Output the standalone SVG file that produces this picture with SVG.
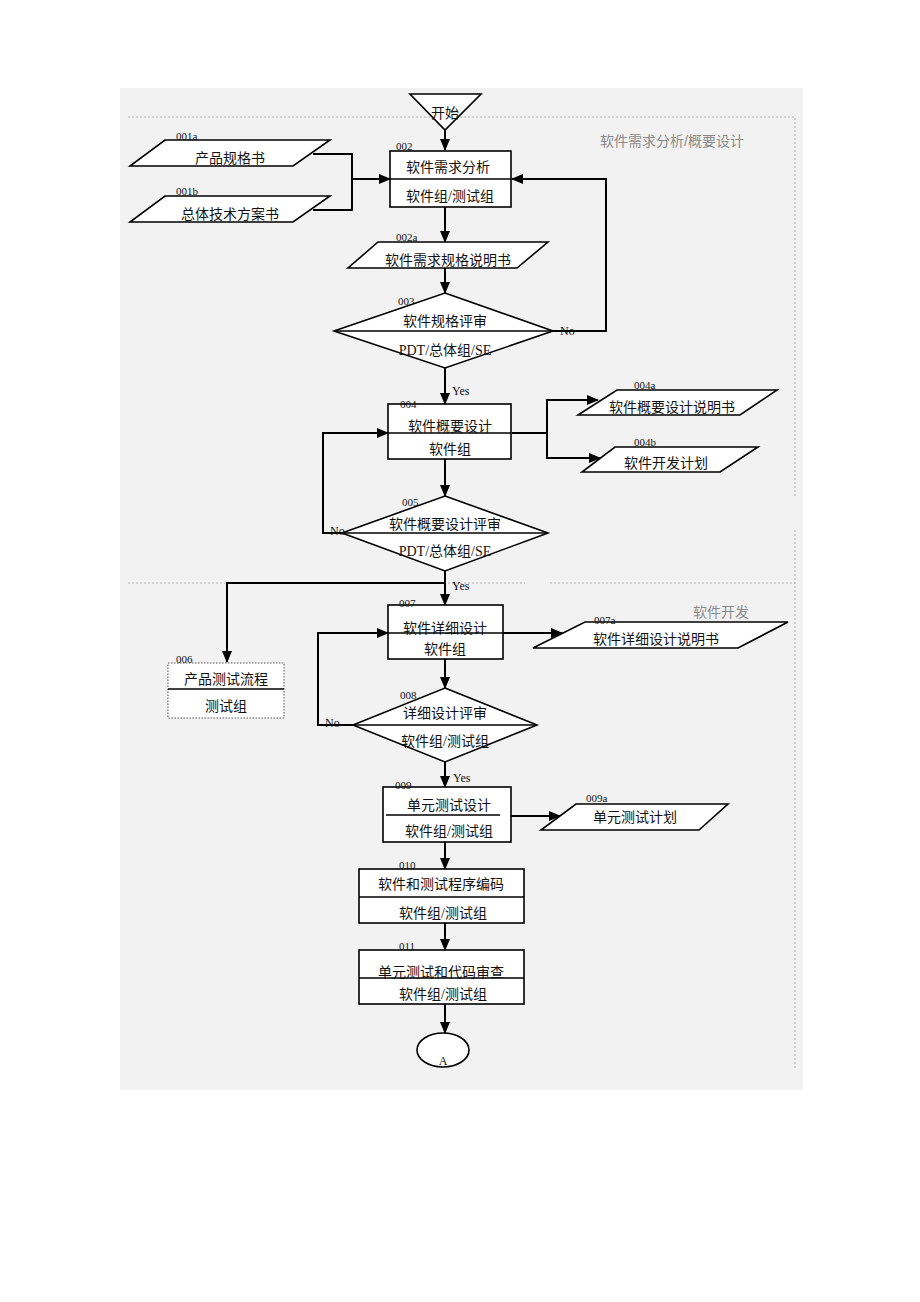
<svg xmlns="http://www.w3.org/2000/svg" width="920" height="1302" viewBox="0 0 920 1302">
<style>
.bg{fill:#f2f2f2}
.sec{fill:none;stroke:#b0b0b0;stroke-width:1;stroke-dasharray:2 2}
.shape{fill:#ffffff;stroke:#000;stroke-width:1.6}
.dotbox{fill:#ffffff;stroke:#555;stroke-width:1;stroke-dasharray:1.5 1.5}
.div{stroke:#000;stroke-width:1.6;fill:none}
.con{fill:none;stroke:#000;stroke-width:2}
.t{font-family:"Liberation Serif","Noto Sans CJK SC",serif;font-size:14px;fill:#111;text-anchor:middle}
.id{font-family:"Liberation Serif",serif;font-size:11px;fill:#111}
.yn{font-family:"Liberation Serif",serif;font-size:12px;fill:#111}
.sl{font-family:"Liberation Sans","Noto Sans CJK SC",sans-serif;font-size:14px;fill:#8a8a8a}
</style>
<defs>
<marker id="ah" markerWidth="12" markerHeight="10" refX="11" refY="5" orient="auto" markerUnits="userSpaceOnUse">
<path d="M0,0 L12,5 L0,10 Z" fill="#000"/>
</marker>
</defs>
<rect class="bg" x="120" y="88" width="683" height="1002"/>
<g id="sections">
<path class="sec" d="M128,117 H795 V497"/>
<path class="sec" d="M795,530 V1070"/>
<path class="sec" d="M128,583 H525 M550,583 H795"/>
<text class="sl" x="600" y="146">软件需求分析/概要设计</text>
<text class="sl" x="693" y="617">软件开发</text>
</g>
<g id="connectors">
<path class="con" d="M445,130 V150" marker-end="url(#ah)"/>
<path class="con" d="M313,154 H352 V210 H313"/>
<path class="con" d="M352,179 H390" marker-end="url(#ah)"/>
<path class="con" d="M553,331 H606 V179 H512" marker-end="url(#ah)"/>
<path class="con" d="M445,207 V242" marker-end="url(#ah)"/>
<path class="con" d="M445,268 V293" marker-end="url(#ah)"/>
<path class="con" d="M445,368 V404" marker-end="url(#ah)"/>
<path class="con" d="M512,433 H547 V458 H600" marker-end="url(#ah)"/>
<path class="con" d="M547,433 V400 H598" marker-end="url(#ah)"/>
<path class="con" d="M445,459 V496" marker-end="url(#ah)"/>
<path class="con" d="M342,533 H323 V433 H388" marker-end="url(#ah)"/>
<path class="con" d="M445,571 V605" marker-end="url(#ah)"/>
<path class="con" d="M445,583 H227 V662" marker-end="url(#ah)"/>
<path class="con" d="M503,633 H562" marker-end="url(#ah)"/>
<path class="con" d="M445,659 V688" marker-end="url(#ah)"/>
<path class="con" d="M353,725 H318 V633 H388" marker-end="url(#ah)"/>
<path class="con" d="M445,762 V787" marker-end="url(#ah)"/>
<path class="con" d="M500,816 H560" marker-end="url(#ah)"/>
<path class="con" d="M445,842 V869" marker-end="url(#ah)"/>
<path class="con" d="M445,923 V950" marker-end="url(#ah)"/>
<path class="con" d="M445,1004 V1033" marker-end="url(#ah)"/>
</g>
<g id="start">
<path class="shape" d="M410,94 H481 L445,130 Z"/>
<text class="t" x="445" y="118">开始</text>
</g>
<g id="n001a">
<path class="shape" d="M165,140 H330 L293,166 H130 Z"/>
<text class="id" x="176" y="140">001a</text>
<text class="t" x="230" y="163">产品规格书</text>
</g>
<g id="n001b">
<path class="shape" d="M165,196 H330 L293,222 H130 Z"/>
<text class="id" x="176" y="195">001b</text>
<text class="t" x="230" y="219">总体技术方案书</text>
</g>
<g id="n002">
<rect class="shape" x="390" y="151" width="121" height="56"/>
<line class="div" x1="390" y1="179" x2="511" y2="179"/>
<text class="id" x="396" y="150">002</text>
<text class="t" x="448" y="172">软件需求分析</text>
<text class="t" x="450" y="201">软件组/测试组</text>
</g>
<g id="n002a">
<path class="shape" d="M378,242 H548 L517,268 H348 Z"/>
<text class="id" x="396" y="241">002a</text>
<text class="t" x="448" y="265">软件需求规格说明书</text>
</g>
<g id="n003">
<path class="shape" d="M445,293 L553,331 L445,368 L334,331 Z"/>
<line class="div" x1="334" y1="331" x2="553" y2="331"/>
<text class="id" x="398" y="305">003</text>
<text class="t" x="445" y="326">软件规格评审</text>
<text class="t" x="445" y="355">PDT/总体组/SE</text>
<text class="yn" x="560" y="335">No</text>
<text class="yn" x="452" y="395">Yes</text>
</g>
<g id="n004">
<rect class="shape" x="388" y="404" width="123" height="55"/>
<line class="div" x1="388" y1="433" x2="511" y2="433"/>
<text class="id" x="400" y="408">004</text>
<text class="t" x="450" y="431">软件概要设计</text>
<text class="t" x="450" y="454">软件组</text>
</g>
<g id="n004a">
<path class="shape" d="M617,390 H777 L740,415 H578 Z"/>
<text class="id" x="634" y="389">004a</text>
<text class="t" x="672" y="412">软件概要设计说明书</text>
</g>
<g id="n004b">
<path class="shape" d="M615,447 H758 L720,472 H582 Z"/>
<text class="id" x="634" y="446">004b</text>
<text class="t" x="666" y="468">软件开发计划</text>
</g>
<g id="n005">
<path class="shape" d="M445,496 L548,533 L445,571 L342,533 Z"/>
<line class="div" x1="342" y1="533" x2="548" y2="533"/>
<text class="id" x="402" y="506">005</text>
<text class="t" x="445" y="529">软件概要设计评审</text>
<text class="t" x="445" y="556">PDT/总体组/SE</text>
<text class="yn" x="330" y="535">No</text>
<text class="yn" x="452" y="590">Yes</text>
</g>
<g id="n006">
<rect class="dotbox" x="168" y="663" width="116" height="55"/>
<line class="div" x1="168" y1="689" x2="284" y2="689" stroke-width="1.2"/>
<text class="id" x="176" y="663">006</text>
<text class="t" x="226" y="684">产品测试流程</text>
<text class="t" x="226" y="711">测试组</text>
</g>
<g id="n007">
<rect class="shape" x="388" y="605" width="115" height="54"/>
<line class="div" x1="388" y1="633" x2="503" y2="633"/>
<text class="id" x="399" y="607">007</text>
<text class="t" x="445" y="633">软件详细设计</text>
<text class="t" x="445" y="654">软件组</text>
</g>
<g id="n007a">
<path class="shape" d="M585,622 H788 L738,648 H533 Z"/>
<text class="id" x="594" y="624">007a</text>
<text class="t" x="656" y="644">软件详细设计说明书</text>
</g>
<g id="n008">
<path class="shape" d="M445,688 L537,725 L445,762 L353,725 Z"/>
<line class="div" x1="353" y1="725" x2="537" y2="725"/>
<text class="id" x="400" y="699">008</text>
<text class="t" x="445" y="718">详细设计评审</text>
<text class="t" x="445" y="746">软件组/测试组</text>
<text class="yn" x="325" y="727">No</text>
<text class="yn" x="453" y="782">Yes</text>
</g>
<g id="n009">
<rect class="shape" x="383" y="787" width="128" height="55"/>
<line class="div" x1="386" y1="815" x2="500" y2="815"/>
<text class="id" x="395" y="789">009</text>
<text class="t" x="449" y="810">单元测试设计</text>
<text class="t" x="449" y="836">软件组/测试组</text>
</g>
<g id="n009a">
<path class="shape" d="M576,804 H728 L699,830 H541 Z"/>
<text class="id" x="586" y="802">009a</text>
<text class="t" x="635" y="822">单元测试计划</text>
</g>
<g id="n010">
<rect class="shape" x="359" y="869" width="165" height="54"/>
<line class="div" x1="359" y1="897" x2="524" y2="897"/>
<text class="id" x="399" y="869">010</text>
<text class="t" x="441" y="889">软件和测试程序编码</text>
<text class="t" x="443" y="918">软件组/测试组</text>
</g>
<g id="n011">
<rect class="shape" x="359" y="950" width="165" height="54"/>
<line class="div" x1="359" y1="978" x2="524" y2="978"/>
<text class="id" x="399" y="950">011</text>
<text class="t" x="441" y="977">单元测试和代码审查</text>
<text class="t" x="443" y="999">软件组/测试组</text>
</g>
<g id="endA">
<ellipse class="shape" cx="443" cy="1050" rx="26" ry="17"/>
<text class="yn" x="443" y="1065" text-anchor="middle">A</text>
</g>
</svg>
